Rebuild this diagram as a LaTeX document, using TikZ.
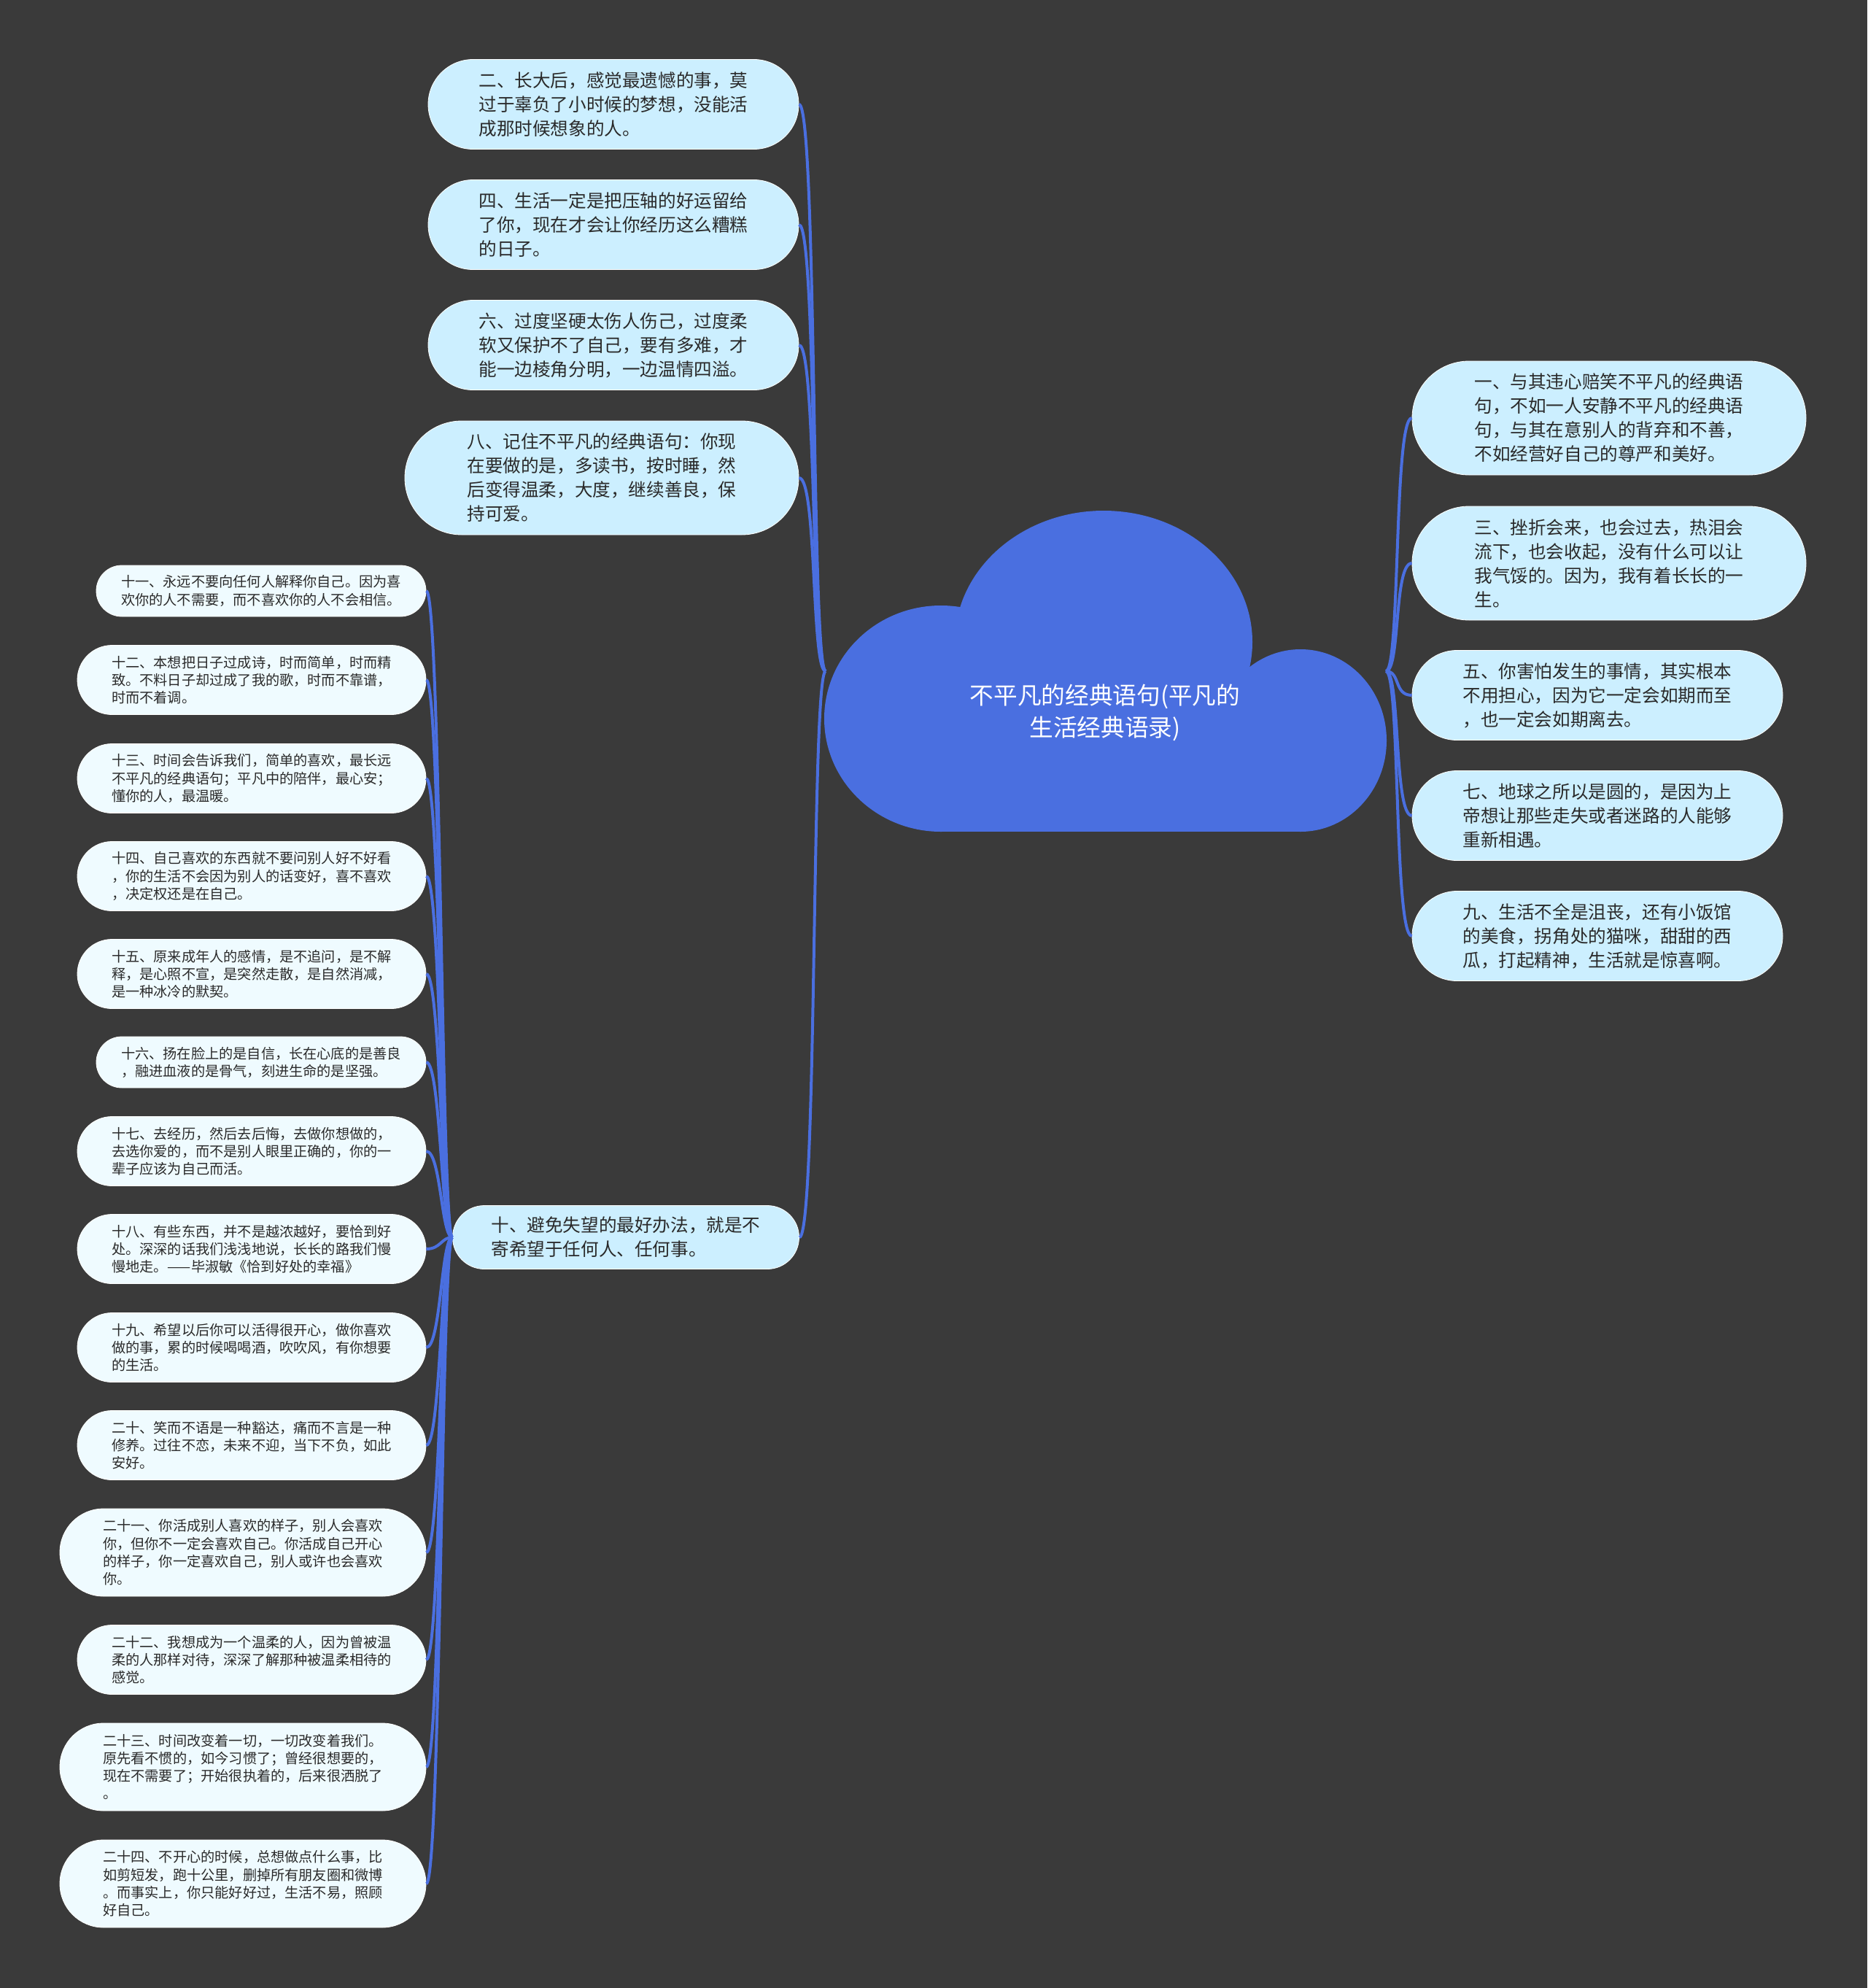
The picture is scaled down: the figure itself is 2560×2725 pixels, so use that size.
\documentclass[tikz,border=0pt]{standalone}
\usepackage{fontspec}
\setmainfont{Noto Sans CJK SC}
\usetikzlibrary{shapes.misc,calc}
\definecolor{cBg}{HTML}{3A3A3A}
\definecolor{cCloud}{HTML}{4A6FE0}
\definecolor{cBranch}{HTML}{4A6FE0}
\definecolor{cBig}{HTML}{CCEFFF}
\definecolor{cSmall}{HTML}{EFFBFF}
\definecolor{cText}{HTML}{2A2A2A}

\begin{document}
\begin{tikzpicture}[x=0.1mm,y=-0.1mm,
  bigbox/.style={rounded rectangle,fill=cBig,draw=white,line width=0.08mm,text=cText,
                 align=left,inner xsep=0pt,minimum width=50.8mm,minimum height=12.3mm,
                 font=\fontsize{7}{9.4}\selectfont},
  tallbox/.style={bigbox,minimum width=54mm,minimum height=15.6mm},
  smallbox/.style={rounded rectangle,fill=cSmall,draw=white,line width=0.08mm,text=cText,
                   align=left,inner xsep=0pt,minimum width=47.8mm,minimum height=9.5mm,
                   font=\fontsize{5.46}{6.9}\selectfont},
  thinbox/.style={smallbox,minimum width=45.2mm,minimum height=7mm},
  widebox/.style={smallbox,minimum width=50.2mm,minimum height=12mm},
  branch/.style={draw=cBranch,line width=0.4mm}
]
\useasboundingbox (0,0) rectangle (2560,2725);
\fill[cBg] (0,0) rectangle (2560,2725);

% cloud
\fill[cCloud] (1290,985) ellipse [x radius=16mm,y radius=15.5mm];
\fill[cCloud] (1513,880) ellipse [x radius=20.4mm,y radius=18mm];
\fill[cCloud] (1783,1015) ellipse [x radius=11.8mm,y radius=12.5mm];
\fill[cCloud] (1290,985) rectangle (1783,1140);
\node[text=white,align=center,font=\fontsize{9.3}{12.3}\selectfont] (title) at (1515,977)
     {不平凡的经典语句(平凡的\\生活经典语录)};
\coordinate (rootL) at (1132,920);
\coordinate (rootR) at (1900,920);

% left, upper
\node[bigbox] (n2) at (841,143) {二、长大后，感觉最遗憾的事，莫\\过于辜负了小时候的梦想，没能活\\成那时候想象的人。};
\node[bigbox] (n4) at (841,308) {四、生活一定是把压轴的好运留给\\了你，现在才会让你经历这么糟糕\\的日子。};
\node[bigbox] (n6) at (841,473) {六、过度坚硬太伤人伤己，过度柔\\软又保护不了自己，要有多难，才\\能一边棱角分明，一边温情四溢。};
\node[tallbox] (n8) at (825,655) {八、记住不平凡的经典语句：你现\\在要做的是，多读书，按时睡，然\\后变得温柔，大度，继续善良，保\\持可爱。};
\node[bigbox,minimum width=47.5mm,minimum height=8.7mm] (n10) at (858,1696) {十、避免失望的最好办法，就是不\\寄希望于任何人、任何事。};

% right
\node[tallbox] (n1) at (2206,573) {一、与其违心赔笑不平凡的经典语\\句，不如一人安静不平凡的经典语\\句，与其在意别人的背弃和不善，\\不如经营好自己的尊严和美好。};
\node[tallbox] (n3) at (2206,772) {三、挫折会来，也会过去，热泪会\\流下，也会收起，没有什么可以让\\我气馁的。因为，我有着长长的一\\生。};
\node[bigbox] (n5) at (2190,953) {五、你害怕发生的事情，其实根本\\不用担心，因为它一定会如期而至\\，也一定会如期离去。};
\node[bigbox] (n7) at (2190,1118) {七、地球之所以是圆的，是因为上\\帝想让那些走失或者迷路的人能够\\重新相遇。};
\node[bigbox] (n9) at (2190,1283) {九、生活不全是沮丧，还有小饭馆\\的美食，拐角处的猫咪，甜甜的西\\瓜，打起精神，生活就是惊喜啊。};

% children of n10
\node[thinbox] (n11) at (358,810) {十一、永远不要向任何人解释你自己。因为喜\\欢你的人不需要，而不喜欢你的人不会相信。};
\node[smallbox] (n12) at (345,932) {十二、本想把日子过成诗，时而简单，时而精\\致。不料日子却过成了我的歌，时而不靠谱，\\时而不着调。};
\node[smallbox] (n13) at (345,1067) {十三、时间会告诉我们，简单的喜欢，最长远\\不平凡的经典语句；平凡中的陪伴，最心安；\\懂你的人，最温暖。};
\node[smallbox] (n14) at (345,1201) {十四、自己喜欢的东西就不要问别人好不好看\\，你的生活不会因为别人的话变好，喜不喜欢\\，决定权还是在自己。};
\node[smallbox] (n15) at (345,1335) {十五、原来成年人的感情，是不追问，是不解\\释，是心照不宣，是突然走散，是自然消减，\\是一种冰冷的默契。};
\node[thinbox] (n16) at (358,1456) {十六、扬在脸上的是自信，长在心底的是善良\\，融进血液的是骨气，刻进生命的是坚强。};
\node[smallbox] (n17) at (345,1578) {十七、去经历，然后去后悔，去做你想做的，\\去选你爱的，而不是别人眼里正确的，你的一\\辈子应该为自己而活。};
\node[smallbox] (n18) at (345,1712) {十八、有些东西，并不是越浓越好，要恰到好\\处。深深的话我们浅浅地说，长长的路我们慢\\慢地走。——毕淑敏《恰到好处的幸福》};
\node[smallbox] (n19) at (345,1847) {十九、希望以后你可以活得很开心，做你喜欢\\做的事，累的时候喝喝酒，吹吹风，有你想要\\的生活。};
\node[smallbox] (n20) at (345,1981) {二十、笑而不语是一种豁达，痛而不言是一种\\修养。过往不恋，未来不迎，当下不负，如此\\安好。};
\node[widebox] (n21) at (333,2128) {二十一、你活成别人喜欢的样子，别人会喜欢\\你，但你不一定会喜欢自己。你活成自己开心\\的样子，你一定喜欢自己，别人或许也会喜欢\\你。};
\node[smallbox] (n22) at (345,2275) {二十二、我想成为一个温柔的人，因为曾被温\\柔的人那样对待，深深了解那种被温柔相待的\\感觉。};
\node[widebox] (n23) at (333,2422) {二十三、时间改变着一切，一切改变着我们。\\原先看不惯的，如今习惯了；曾经很想要的，\\现在不需要了；开始很执着的，后来很洒脱了\\。};
\node[widebox] (n24) at (333,2582) {二十四、不开心的时候，总想做点什么事，比\\如剪短发，跑十公里，删掉所有朋友圈和微博\\。而事实上，你只能好好过，生活不易，照顾\\好自己。};

% branches
\foreach \n in {n2,n4,n6,n8,n10}
  \draw[branch] (rootL) .. controls +(-20,0) and ($(\n.east)+(25,0)$) .. (\n.east);
\foreach \n in {n1,n3,n5,n7,n9}
  \draw[branch] (rootR) .. controls +(20,0) and ($(\n.west)+(-25,0)$) .. (\n.west);
\foreach \n in {n11,n12,n13,n14,n15,n16,n17,n18,n19,n20,n21,n22,n23,n24}
  \draw[branch] (n10.west) .. controls +(-15,0) and ($(\n.east)+(20,0)$) .. (\n.east);
\end{tikzpicture}
\end{document}
